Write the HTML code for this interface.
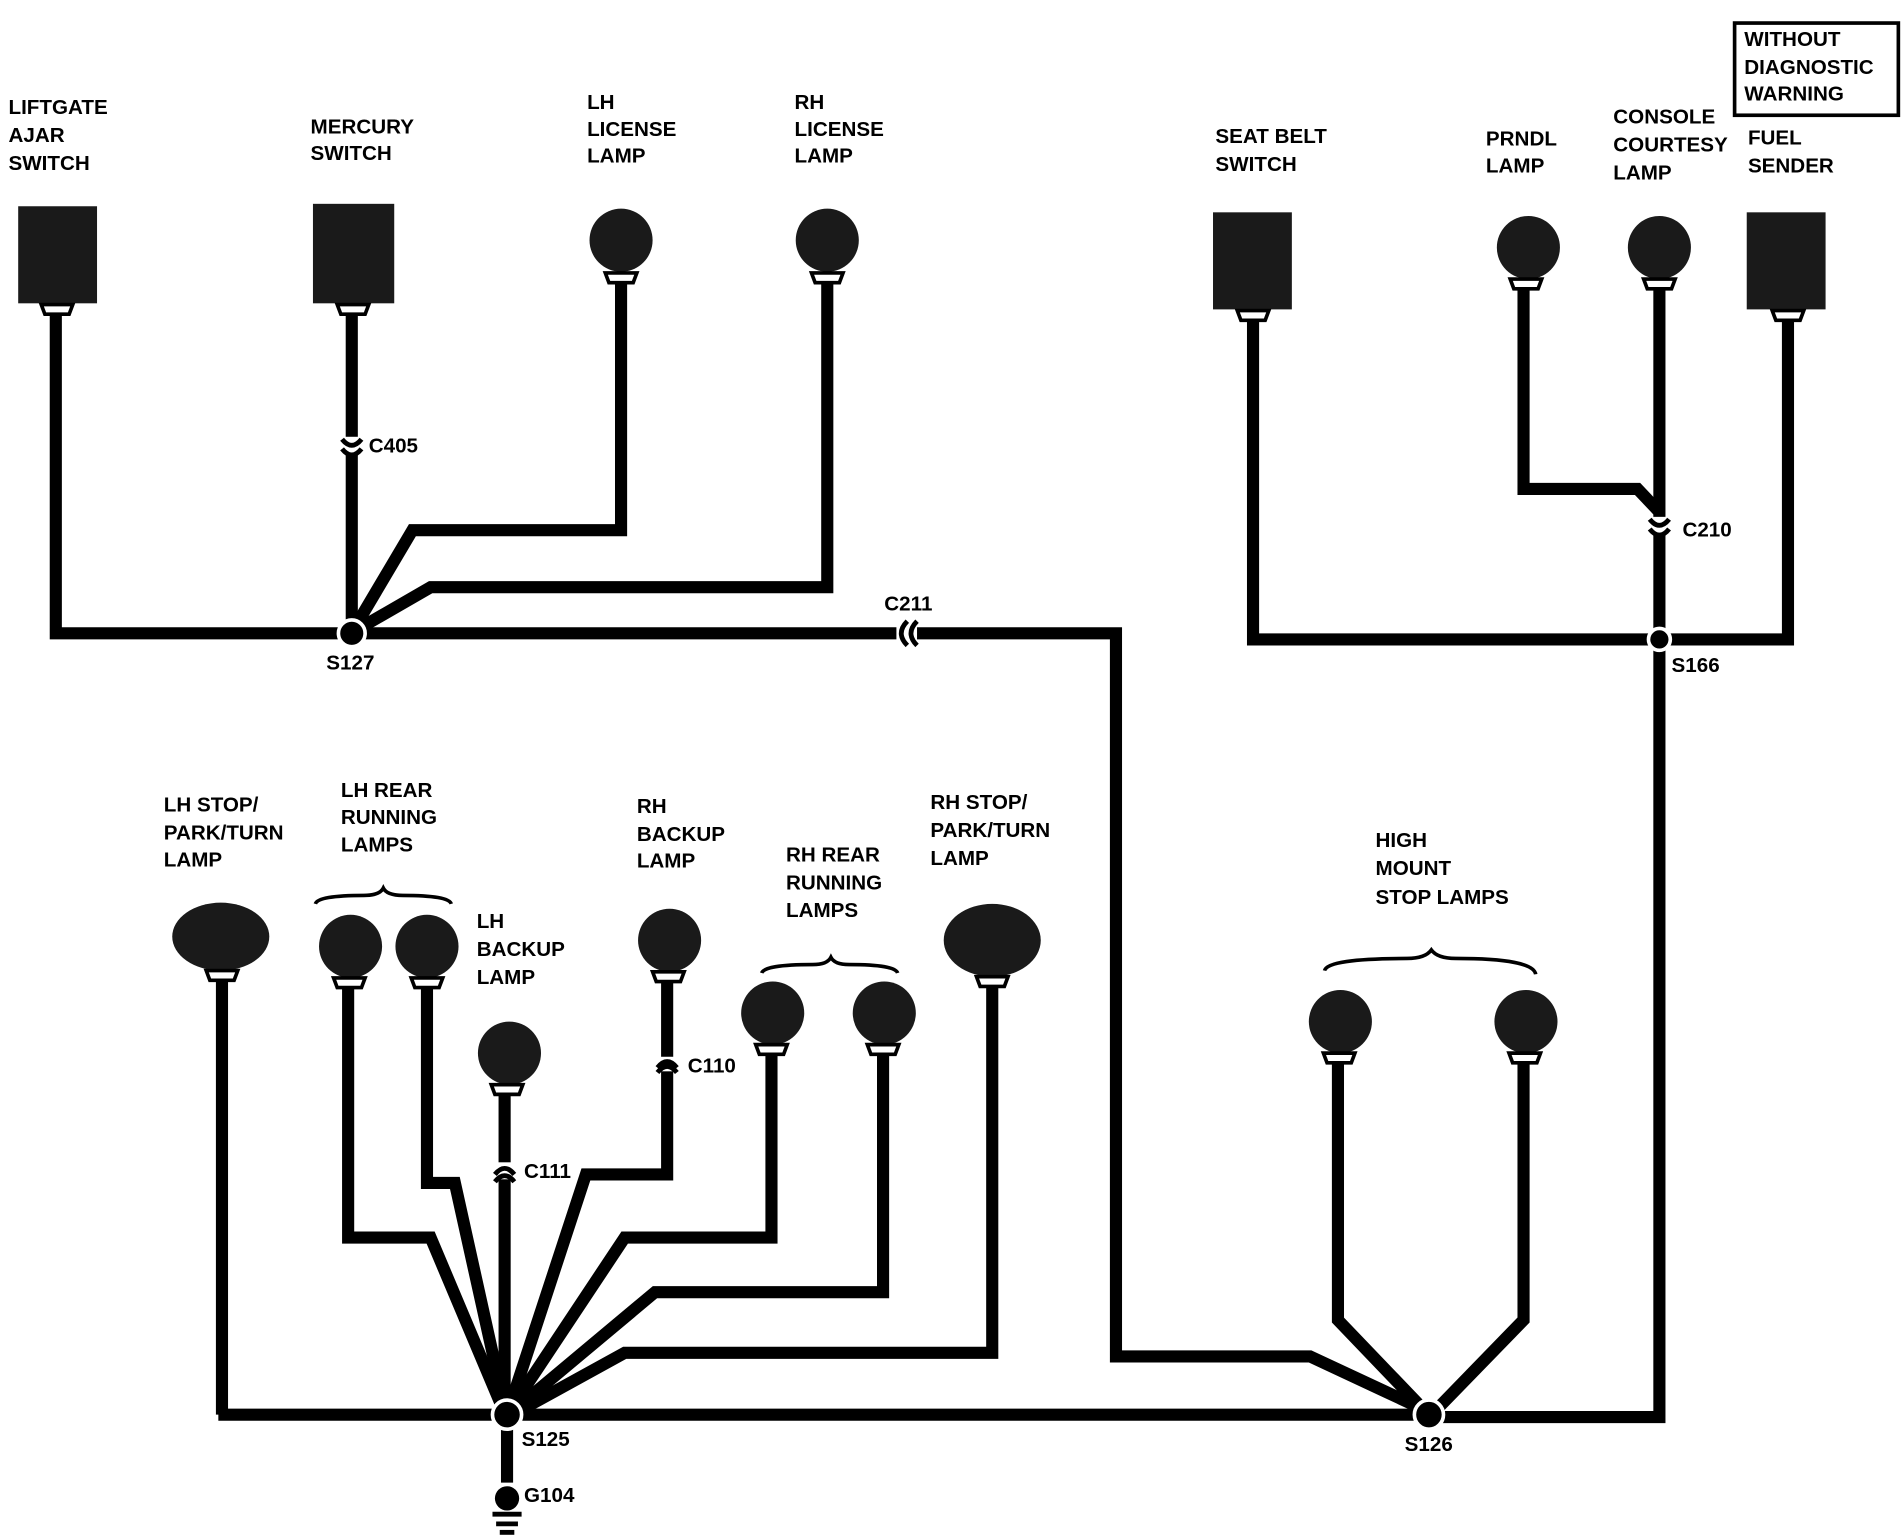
<!DOCTYPE html>
<html><head><meta charset="utf-8"><style>
html,body{margin:0;padding:0;background:#fff;}
svg{display:block;}
text{font-family:"Liberation Sans",sans-serif;font-weight:bold;font-size:17px;fill:#000;}
</style></head><body>
<svg width="1902" height="1536" viewBox="0 0 1568 1266" preserveAspectRatio="none" xmlns="http://www.w3.org/2000/svg">
<defs>
<g id="sock"><path d="M-13,0 L13,0 L10,8 L-10,8 Z" fill="#fff" stroke="#000" stroke-width="3"/></g>
</defs>
<rect width="1568" height="1266" fill="#fff"/>
<g fill="none" stroke="#000" stroke-width="10" stroke-linejoin="miter">
<polyline points="46,255 46,522 290,522"/>
<polyline points="290,255 290,522"/>
<polyline points="512,225 512,437 340,437 292,518"/>
<polyline points="682,225 682,484 355,484 296,518"/>
<polyline points="290,522 740,522"/>
<polyline points="756,522 920,522 920,1118 1080,1118 1170,1160"/>
<polyline points="1033,260 1033,527 1474,527 1474,262"/>
<polyline points="1256,230 1256,403 1350,403 1368,422"/>
<polyline points="1368,230 1368,1168 1180,1168"/>
<polyline points="1103,870 1103,1088 1172,1160"/>
<polyline points="1256,870 1256,1088 1186,1160"/>
<polyline points="180,1166 1178,1166"/>
<polyline points="183,800 183,1166"/>
<polyline points="287,810 287,1020 355,1020 414,1160"/>
<polyline points="352,810 352,975 375,975 416,1160"/>
<polyline points="416,900 416,1166"/>
<polyline points="550,810 550,968 483,968 420,1160"/>
<polyline points="636,865 636,1020 515,1020 422,1160"/>
<polyline points="728,865 728,1065 540,1065 424,1162"/>
<polyline points="818,810 818,1115 515,1115 426,1164"/>
<polyline points="418,1175 418,1222"/>
</g>
<g fill="#fff" stroke="none">
<rect x="280" y="360" width="20" height="14"/>
<rect x="1358" y="426" width="20" height="14"/>
<rect x="406" y="958" width="20" height="14"/>
<rect x="540" y="871" width="20" height="12"/>
<rect x="739" y="512" width="14" height="20"/>
</g>
<g fill="none" stroke="#000" stroke-width="4">
<path d="M282,362 Q290,372 298,362 M282,370 Q290,380 298,370"/>
<path d="M1360,428 Q1368,438 1376,428 M1360,436 Q1368,446 1376,436"/>
<path d="M408,968 Q416,958 424,968 M408,974 Q416,964 424,974"/>
<path d="M542,880 Q550,870 558,880 M542,884 Q550,874 558,884"/>
<path d="M748,512 Q738,522 748,532 M756,512 Q746,522 756,532"/>
</g>
<g fill="#000" stroke="#fff" stroke-width="3">
<circle cx="290" cy="522" r="11"/>
<circle cx="1368" cy="527" r="9"/>
<circle cx="418" cy="1166" r="12"/>
<circle cx="1178" cy="1166" r="12"/>
</g>
<circle cx="418" cy="1235" r="10" fill="#000"/>
<g stroke="#000" stroke-width="4"><line x1="406" y1="1248" x2="430" y2="1248"/><line x1="409" y1="1256" x2="427" y2="1256"/><line x1="412" y1="1263" x2="424" y2="1263"/></g>
<g fill="#1a1a1a">
<rect x="15" y="170" width="65" height="80"/>
<rect x="258" y="168" width="67" height="82"/>
<rect x="1000" y="175" width="65" height="80"/>
<rect x="1440" y="175" width="65" height="80"/>
<circle cx="512" cy="198" r="26"/><circle cx="682" cy="198" r="26"/>
<circle cx="1260" cy="204" r="26"/><circle cx="1368" cy="204" r="26"/>
<ellipse cx="182" cy="772" rx="40" ry="28"/>
<circle cx="289" cy="780" r="26"/><circle cx="352" cy="780" r="26"/>
<circle cx="420" cy="868" r="26"/>
<circle cx="552" cy="775" r="26"/>
<circle cx="637" cy="835" r="26"/><circle cx="729" cy="835" r="26"/>
<ellipse cx="818" cy="775" rx="40" ry="30"/>
<circle cx="1105" cy="842" r="26"/><circle cx="1258" cy="842" r="26"/>
</g>
<g>
<use href="#sock" x="47" y="251"/><use href="#sock" x="291" y="251"/>
<use href="#sock" x="512" y="225"/><use href="#sock" x="682" y="225"/>
<use href="#sock" x="1033" y="256"/><use href="#sock" x="1474" y="256"/>
<use href="#sock" x="1258" y="230"/><use href="#sock" x="1368" y="230"/>
<use href="#sock" x="183" y="800"/><use href="#sock" x="288" y="806"/><use href="#sock" x="352" y="806"/>
<use href="#sock" x="418" y="894"/><use href="#sock" x="551" y="801"/>
<use href="#sock" x="636" y="861"/><use href="#sock" x="728" y="861"/><use href="#sock" x="818" y="805"/>
<use href="#sock" x="1104" y="868"/><use href="#sock" x="1257" y="868"/>
</g>
<g fill="none" stroke="#000" stroke-width="3">
<path d="M260,745 Q262,738 300,738 Q313,738 316,732 Q319,738 332,738 Q370,738 372,745"/>
<path d="M628,802 Q630,795 670,795 Q682,795 685,789 Q688,795 700,795 Q738,795 740,802"/>
<path d="M1092,800 Q1094,790 1160,790 Q1175,790 1180,783 Q1185,790 1200,790 Q1264,790 1266,803"/>
</g>
<rect x="1430" y="19" width="135" height="76" fill="none" stroke="#000" stroke-width="3"/>
<text x="1438" y="38">WITHOUT</text><text x="1438" y="61">DIAGNOSTIC</text><text x="1438" y="83">WARNING</text>
<text x="7" y="94">LIFTGATE</text><text x="7" y="117">AJAR</text><text x="7" y="140">SWITCH</text>
<text x="256" y="110">MERCURY</text><text x="256" y="132">SWITCH</text>
<text x="484" y="90">LH</text><text x="484" y="112">LICENSE</text><text x="484" y="134">LAMP</text>
<text x="655" y="90">RH</text><text x="655" y="112">LICENSE</text><text x="655" y="134">LAMP</text>
<text x="1002" y="118">SEAT BELT</text><text x="1002" y="141">SWITCH</text>
<text x="1225" y="120">PRNDL</text><text x="1225" y="142">LAMP</text>
<text x="1330" y="102">CONSOLE</text><text x="1330" y="125">COURTESY</text><text x="1330" y="148">LAMP</text>
<text x="1441" y="119">FUEL</text><text x="1441" y="142">SENDER</text>
<text x="304" y="373">C405</text><text x="1387" y="442">C210</text>
<text x="729" y="503">C211</text>
<text x="269" y="552">S127</text><text x="1378" y="554">S166</text>
<text x="135" y="669">LH STOP/</text><text x="135" y="692">PARK/TURN</text><text x="135" y="714">LAMP</text>
<text x="281" y="657">LH REAR</text><text x="281" y="679">RUNNING</text><text x="281" y="702">LAMPS</text>
<text x="393" y="765">LH</text><text x="393" y="788">BACKUP</text><text x="393" y="811">LAMP</text>
<text x="525" y="670">RH</text><text x="525" y="693">BACKUP</text><text x="525" y="715">LAMP</text>
<text x="648" y="710">RH REAR</text><text x="648" y="733">RUNNING</text><text x="648" y="756">LAMPS</text>
<text x="767" y="667">RH STOP/</text><text x="767" y="690">PARK/TURN</text><text x="767" y="713">LAMP</text>
<text x="1134" y="698">HIGH</text><text x="1134" y="721">MOUNT</text><text x="1134" y="745">STOP LAMPS</text>
<text x="567" y="884">C110</text><text x="432" y="971">C111</text>
<text x="430" y="1192">S125</text><text x="1158" y="1196">S126</text>
<text x="432" y="1238">G104</text>
</svg>
</body></html>
